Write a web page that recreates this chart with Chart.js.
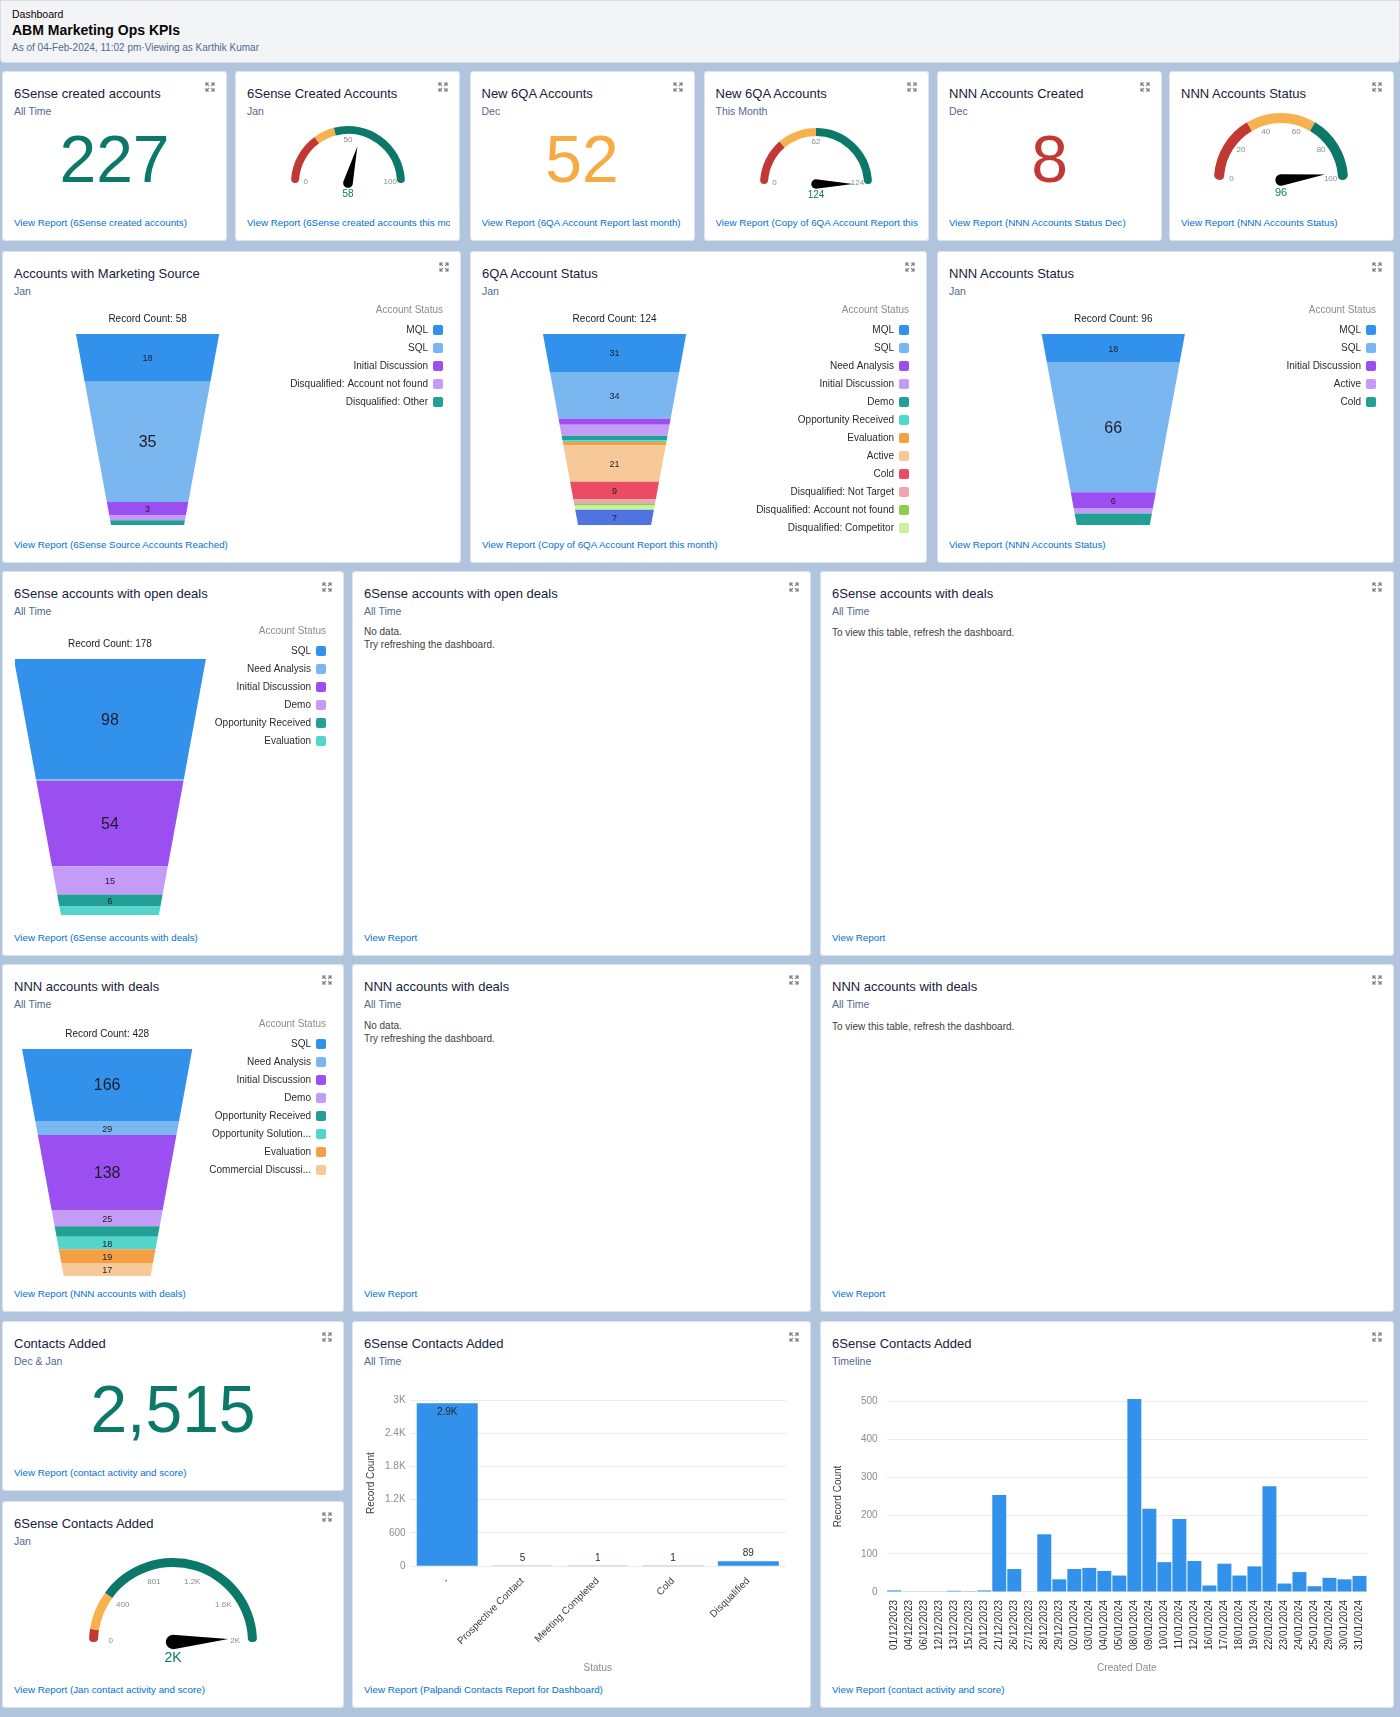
<!DOCTYPE html>
<html lang="en">
<head>
<meta charset="utf-8">
<title>ABM Marketing Ops KPIs</title>
<script src="https://cdn.jsdelivr.net/npm/chart.js@4.4.1/dist/chart.umd.min.js"></script>
<style>
  html, body { margin: 0; padding: 0; }
  body { width: 1400px; height: 1717px; position: relative; overflow: hidden; background: #b0c4de;
         font-family: "Liberation Sans", Arial, Helvetica, sans-serif; }
  .header { position: absolute; left: 0; top: 0; width: 1398px; height: 61px; background: #f3f4f6;
            border: 1px solid #d8dde6; border-radius: 0 0 4px 4px; }
  .header .crumb { position: absolute; left: 11px; top: 7px; font-size: 10.5px; color: #080707; }
  .header .name { position: absolute; left: 11px; top: 21px; font-size: 14px; font-weight: bold; color: #080707; }
  .header .asof { position: absolute; left: 11px; top: 41px; font-size: 10px; color: #54698d; }
  .card { position: absolute; background: #fff; border-radius: 4px; box-shadow: inset 0 0 0 1px #dde3ec; }
  .card .t { position: absolute; left: 12px; top: 15px; font-size: 13px; line-height: 15px; color: #16233a; white-space: nowrap; }
  .card .s { position: absolute; left: 12px; top: 34px; font-size: 10.5px; line-height: 12px; color: #54698d; }
  .card .x { position: absolute; right: 12px; top: 11px; }
  .card .link { position: absolute; left: 12px; right: 10px; bottom: 12px; font-size: 9.8px; line-height: 12px;
                color: #0070d2; white-space: nowrap; overflow: hidden; }
  .card canvas { position: absolute; }
  .big { position: absolute; left: 0; right: 0; top: 55px; text-align: center; font-size: 66px; line-height: 66px; }
  .msg { position: absolute; left: 12px; font-size: 10px; line-height: 12.5px; color: #3e3e3c; }
</style>
</head>
<body>
<div class="header">
  <div class="crumb">Dashboard</div>
  <div class="name">ABM Marketing Ops KPIs</div>
  <div class="asof">As of 04-Feb-2024, 11:02 pm·Viewing as Karthik Kumar</div>
</div>
<script>
const metricTotals = [227, 52, 8, 2515];   // 6Sense created, New 6QA Dec, NNN created Dec, Contacts Dec & Jan

// gauges: limites de las bandas (rojo / amarillo / verde), marcas y valor
const createdJanBands = [0, 30, 42, 100];
const createdJanTicks = [0, 50, 100];
const qaMonthBands = [0, 34, 62, 124];
const qaMonthTicks = [0, 62, 124];
const nnnStatusBands = [0, 33, 67, 100];
const nnnStatusTicks = [0, 20, 40, 60, 80, 100];
const contactsJanBands = [0, 100, 400, 2000];
const contactsJanTicks = [0, 400, 801, 1200, 1600, 2000];
const gaugeValues = [58, 124, 96, 1965];

// funnels
const marketingStatus = ['MQL', 'SQL', 'Initial Discussion', 'Disqualified: Account not found', 'Disqualified: Other'];
const marketingCounts = [18, 35, 3, 1, 1];
const qaStatus = ['MQL', 'SQL', 'Need Analysis', 'Initial Discussion', 'Demo', 'Opportunity Received', 'Evaluation',
  'Active', 'Cold', 'Disqualified: Not Target', 'Disqualified: Account not found', 'Disqualified: Competitor', 'Disqualified: Other'];
const qaCounts = [31, 34, 4, 7, 3, 1, 2, 21, 9, 2, 1, 2, 7];
const nnnStatus = ['MQL', 'SQL', 'Initial Discussion', 'Active', 'Cold'];
const nnnCounts = [18, 66, 6, 2, 4];
const openDealStatus = ['SQL', 'Need Analysis', 'Initial Discussion', 'Demo', 'Opportunity Received', 'Evaluation'];
const openDealCounts = [98, 1, 54, 15, 6, 4];
const nnnDealStatus = ['SQL', 'Need Analysis', 'Initial Discussion', 'Demo', 'Opportunity Received',
  'Opportunity Solution...', 'Evaluation', 'Commercial Discussi...'];
const nnnDealCounts = [166, 29, 138, 25, 16, 18, 19, 17];

// 6Sense Contacts Added - All Time
const contactStatus = ['-', 'Prospective Contact', 'Meeting Completed', 'Cold', 'Disqualified'];
const contactCounts = [2940, 5, 1, 1, 89];
const contactTicks = [0, 600, 1200, 1800, 2400, 3000];

// 6Sense Contacts Added - Timeline
const timelineDates = ['01/12/2023', '04/12/2023', '06/12/2023', '12/12/2023', '13/12/2023', '15/12/2023', '20/12/2023',
  '21/12/2023', '26/12/2023', '27/12/2023', '28/12/2023', '29/12/2023', '02/01/2024', '03/01/2024', '04/01/2024',
  '05/01/2024', '08/01/2024', '09/01/2024', '10/01/2024', '11/01/2024', '12/01/2024', '16/01/2024', '17/01/2024',
  '18/01/2024', '19/01/2024', '22/01/2024', '23/01/2024', '24/01/2024', '25/01/2024', '29/01/2024', '30/01/2024', '31/01/2024'];
const timelineCounts = [4, 1, 1, 1, 3, 2, 4, 254, 60, 0, 151, 33, 60, 63, 55, 43, 505, 218, 78, 191, 81, 17, 74, 43, 67, 277,
  22, 52, 15, 37, 33, 42];
const timelineTicks = [0, 100, 200, 300, 400, 500];

// ================= estilos =================
const FONT = '"Liberation Sans", Arial, Helvetica, sans-serif';
Chart.defaults.font.family = FONT;
Chart.defaults.font.size = 10;
Chart.defaults.color = '#3e3e3c';

const BAR_BLUE = '#3292eb';
const TEAL = '#0b7869';
const funnelPalette = ['#3292eb', '#7ab6f0', '#9b4ff0', '#c49bf6', '#23a096', '#52d6cc', '#f59f45',
  '#f8c998', '#ea4c64', '#f4a3b2', '#8bcc4f', '#c9f09a', '#4f73e0'];

function formatK(v) {
  return v >= 1000 ? (Math.round(v / 100) / 10) + 'K' : String(v);
}

// ================= tarjetas =================
const ICON = '<svg class="x" width="10" height="10" viewBox="0 0 10 10"><g stroke="#7d7d7d" stroke-width="1.2" fill="none" stroke-linecap="round">' +
  '<path d="M1 3.5V1h2.5M1 1l2.6 2.6"/><path d="M9 3.5V1H6.5M9 1L6.4 3.6"/>' +
  '<path d="M1 6.5V9h2.5M1 9l2.6-2.6"/><path d="M9 6.5V9H6.5M9 9L6.4 6.4"/></g></svg>';

function makeCard(x, y, w, h, title, sub, link) {
  const el = document.createElement('div');
  el.className = 'card';
  el.style.left = x + 'px';
  el.style.top = y + 'px';
  el.style.width = w + 'px';
  el.style.height = h + 'px';
  el.innerHTML = '<div class="t">' + title + '</div>' + (sub ? '<div class="s">' + sub + '</div>' : '') +
    ICON + '<div class="link">' + link + '</div>';
  document.body.appendChild(el);
  return el;
}

function addCanvas(card, x, y, w, h) {
  const c = document.createElement('canvas');
  c.width = Math.round(w);
  c.height = Math.round(h);
  c.style.left = Math.round(x) + 'px';
  c.style.top = Math.round(y) + 'px';
  card.appendChild(c);
  return c;
}

function bigNumber(card, value, color) {
  const d = document.createElement('div');
  d.className = 'big';
  d.style.color = color;
  d.textContent = value.toLocaleString('en-US');
  card.appendChild(d);
}

function message(card, top, lines) {
  const d = document.createElement('div');
  d.className = 'msg';
  d.style.top = top + 'px';
  d.innerHTML = lines.join('<br>');
  card.appendChild(d);
}

// ================= gauge =================
function gaugeNeedle(bands, ticks, value) {
  return {
    id: 'gaugeNeedle',
    afterDatasetsDraw(chart) {
      const arcs = chart.getDatasetMeta(0).data;
      const first = arcs[0], last = arcs[arcs.length - 1];
      const cx = first.x, cy = first.y, R = first.outerRadius;
      const min = bands[0], max = bands[bands.length - 1];
      const ang = v => first.startAngle + (v - min) / (max - min) * (last.endAngle - first.startAngle);
      const ctx = chart.ctx;
      ctx.save();
      ctx.textAlign = 'center';
      ctx.textBaseline = 'middle';
      ctx.fillStyle = '#8a8a8a';
      ctx.font = '8px ' + FONT;
      ticks.forEach(t => {
        const a = ang(t);
        ctx.fillText(formatK(t), cx + Math.cos(a) * R * 0.74, cy + Math.sin(a) * R * 0.74 - 1);
      });
      // aguja
      const a = ang(value), L = R * 0.66, rb = R * 0.085;
      ctx.beginPath();
      ctx.moveTo(cx + Math.cos(a) * L, cy + Math.sin(a) * L);
      ctx.arc(cx, cy, rb, a + Math.PI / 2, a + Math.PI * 1.5);
      ctx.closePath();
      ctx.fillStyle = '#000';
      ctx.fill();
      // valor
      ctx.fillStyle = TEAL;
      ctx.font = Math.round(R * 0.17) + 'px ' + FONT;
      ctx.fillText(formatK(value), cx, cy + R * 0.17 + 2);
      ctx.restore();
    }
  };
}

function gauge(card, cx, cy, R, th, bands, ticks, value) {
  const px = 24, pt = 4, pb = 24;
  const canvas = addCanvas(card, cx - R - px, cy - R - pt, 2 * R + 2 * px, R + pt + pb);
  const cap = Math.floor(th / 2);
  new Chart(canvas, {
    type: 'doughnut',
    data: {
      labels: ['Low', 'Medium', 'High'],
      datasets: [{
        data: bands.slice(1).map((b, i) => b - bands[i]),
        backgroundColor: ['#c23934', '#f7b24f', TEAL],
        borderWidth: 0,
        borderRadius: c => c.dataIndex === 0 ? { outerStart: cap, innerStart: cap, outerEnd: 0, innerEnd: 0 }
          : (c.dataIndex === 2 ? { outerStart: 0, innerStart: 0, outerEnd: cap, innerEnd: cap } : 0)
      }]
    },
    options: {
      responsive: false, animation: false,
      rotation: -90, circumference: 180,
      cutout: ((R - th) / R * 100) + '%',
      layout: { padding: { left: px, right: px, top: pt, bottom: pb } },
      plugins: { legend: { display: false }, tooltip: { enabled: false } }
    },
    plugins: [gaugeNeedle(bands, ticks, value)]
  });
}

// ================= funnel =================
// escala vertical: el area de cada tramo del embudo es proporcional al valor
class FunnelScale extends Chart.LinearScale {
  getPixelForDecimal(decimal) {
    const k = this.options.taper;
    const f = Math.min(Math.max(decimal, 0), 1);
    const t = (1 - Math.sqrt(1 - k * (2 - k) * f)) / k;
    return this.top + t * (this.bottom - this.options.inset - this.top);
  }
}
FunnelScale.id = 'funnel';
FunnelScale.defaults = { taper: 0.49, inset: 0 };
Chart.register(FunnelScale);

const funnelShapes = {
  id: 'funnelShapes',
  beforeDatasetDraw() { return false; },
  afterDatasetsDraw(chart) {
    const ctx = chart.ctx, ys = chart.scales.y;
    const top = ys.top, bottom = ys.bottom - ys.options.inset;
    const k = ys.options.taper, topW = (bottom - top) * 0.75;
    const widthAt = py => topW * (1 - k * (py - top) / (bottom - top));
    ctx.save();
    chart.data.datasets.forEach((ds, i) => {
      const el = chart.getDatasetMeta(i).data[0];
      if (!el) return;
      const y0 = Math.min(el.y, el.base), y1 = Math.max(el.y, el.base);
      if (y1 - y0 < 0.2) return;
      const w0 = widthAt(y0), w1 = widthAt(y1);
      ctx.beginPath();
      ctx.moveTo(el.x - w0 / 2, y0);
      ctx.lineTo(el.x + w0 / 2, y0);
      ctx.lineTo(el.x + w1 / 2, y1);
      ctx.lineTo(el.x - w1 / 2, y1);
      ctx.closePath();
      ctx.fillStyle = ds.backgroundColor;
      ctx.fill();
      const h = y1 - y0;
      if (h >= 12) {
        ctx.fillStyle = '#1b1d2b';
        ctx.textAlign = 'center';
        ctx.textBaseline = 'middle';
        ctx.font = (h > 60 ? 16 : 9) + 'px ' + FONT;
        ctx.fillText(ds.data[0], el.x, (y0 + y1) / 2 + 1);
      }
    });
    ctx.restore();
  }
};

// titulo de la leyenda, alineado con los cuadritos
const legendHeading = {
  id: 'legendHeading',
  afterDraw(chart) {
    const lg = chart.legend, ctx = chart.ctx;
    ctx.save();
    ctx.font = '10px ' + FONT;
    ctx.fillStyle = '#8c8c8c';
    ctx.textAlign = 'right';
    ctx.textBaseline = 'middle';
    ctx.fillText('Account Status', lg.right - lg.options.labels.padding, lg.top + 5);
    ctx.restore();
  }
};

function funnel(card, w, top, bottom, inset, padTop, labels, counts, maxLegend) {
  const total = counts.reduce((a, b) => a + b, 0);
  const canvas = addCanvas(card, 13, top, w - 23, bottom - top);
  new Chart(canvas, {
    type: 'bar',
    data: {
      labels: [''],
      datasets: labels.map((l, i) => ({ label: l, data: [counts[i]], backgroundColor: funnelPalette[i] }))
    },
    options: {
      responsive: false, animation: false,
      plugins: {
        tooltip: { enabled: false },
        legend: {
          position: 'right', align: 'start', rtl: true, textDirection: 'ltr',
          title: { display: true, text: ' ', font: { size: 10 }, padding: 0 },
          labels: {
            boxWidth: 10, boxHeight: 10, padding: 8, color: '#2b2b2b', font: { size: 10 },
            useBorderRadius: true, borderRadius: 2,
            filter: item => item.datasetIndex < maxLegend
          }
        }
      },
      scales: {
        x: {
          position: 'top', stacked: true,
          grid: { display: false, drawTicks: false }, border: { display: false }, ticks: { display: false },
          title: { display: true, text: 'Record Count: ' + total, color: '#1b1b1b', font: { size: 10 },
                   padding: { top: padTop, bottom: 9 } }
        },
        y: { type: 'funnel', stacked: true, display: false, min: 0, max: total, taper: 0.49, inset: inset }
      }
    },
    plugins: [funnelShapes, legendHeading]
  });
}

// ================= etiquetas de barras =================
const barValueLabels = {
  id: 'barValueLabels',
  afterDatasetsDraw(chart) {
    const ctx = chart.ctx, area = chart.chartArea;
    const data = chart.data.datasets[0].data;
    ctx.save();
    ctx.font = '10px ' + FONT;
    ctx.fillStyle = '#2b2b2b';
    ctx.textAlign = 'center';
    ctx.textBaseline = 'middle';
    chart.getDatasetMeta(0).data.forEach((el, i) => {
      const inside = el.y - 16 < area.top;
      ctx.fillText(formatK(data[i]), el.x, inside ? el.y + 9 : el.y - 8);
    });
    ctx.restore();
  }
};

// ================= fila 1 =================
const row1X = [2, 235, 469.5, 703.5, 937, 1169];
const c1 = makeCard(row1X[0], 71, 225, 170, '6Sense created accounts', 'All Time', 'View Report (6Sense created accounts)');
bigNumber(c1, metricTotals[0], TEAL);

const c2 = makeCard(row1X[1], 71, 225, 170, '6Sense Created Accounts', 'Jan', 'View Report (6Sense created accounts this month)');
gauge(c2, 112.5, 112, 57, 8, createdJanBands, createdJanTicks, gaugeValues[0]);

const c3 = makeCard(row1X[2], 71, 225, 170, 'New 6QA Accounts', 'Dec', 'View Report (6QA Account Report last month)');
bigNumber(c3, metricTotals[1], '#f6ab45');

const c4 = makeCard(row1X[3], 71, 225, 170, 'New 6QA Accounts', 'This Month', 'View Report (Copy of 6QA Account Report this month)');
gauge(c4, 112, 113, 56, 8, qaMonthBands, qaMonthTicks, gaugeValues[1]);

const c5 = makeCard(row1X[4], 71, 225, 170, 'NNN Accounts Created', 'Dec', 'View Report (NNN Accounts Status Dec)');
bigNumber(c5, metricTotals[2], '#c23934');

const c6 = makeCard(row1X[5], 71, 225, 170, 'NNN Accounts Status', '', 'View Report (NNN Accounts Status)');
gauge(c6, 112, 109, 67, 10, nnnStatusBands, nnnStatusTicks, gaugeValues[2]);

// ================= fila 2 =================
const f1 = makeCard(2, 251, 459, 312, 'Accounts with Marketing Source', 'Jan', 'View Report (6Sense Source Accounts Reached)');
funnel(f1, 459, 54, 294, 20, 8, marketingStatus, marketingCounts, 99);

const f2 = makeCard(470, 251, 457, 312, '6QA Account Status', 'Jan', 'View Report (Copy of 6QA Account Report this month)');
funnel(f2, 457, 54, 294, 20, 8, qaStatus, qaCounts, 12);

const f3 = makeCard(937, 251, 457, 312, 'NNN Accounts Status', 'Jan', 'View Report (NNN Accounts Status)');
funnel(f3, 457, 54, 294, 20, 8, nnnStatus, nnnCounts, 99);

// ================= fila 3 =================
const d1 = makeCard(2, 571, 342, 385, '6Sense accounts with open deals', 'All Time', 'View Report (6Sense accounts with deals)');
funnel(d1, 342, 55, 364, 20, 12, openDealStatus, openDealCounts, 99);

const d2 = makeCard(352, 571, 459, 385, '6Sense accounts with open deals', 'All Time', 'View Report');
message(d2, 55, ['No data.', 'Try refreshing the dashboard.']);

const d3 = makeCard(820, 571, 574, 385, '6Sense accounts with deals', 'All Time', 'View Report');
message(d3, 56, ['To view this table, refresh the dashboard.']);

// ================= fila 4 =================
const n1 = makeCard(2, 964, 342, 348, 'NNN accounts with deals', 'All Time', 'View Report (NNN accounts with deals)');
funnel(n1, 342, 55, 332, 20, 9, nnnDealStatus, nnnDealCounts, 99);

const n2 = makeCard(352, 964, 459, 348, 'NNN accounts with deals', 'All Time', 'View Report');
message(n2, 56, ['No data.', 'Try refreshing the dashboard.']);

const n3 = makeCard(820, 964, 574, 348, 'NNN accounts with deals', 'All Time', 'View Report');
message(n3, 57, ['To view this table, refresh the dashboard.']);

// ================= fila 5 =================
const k1 = makeCard(2, 1321, 342, 170, 'Contacts Added', 'Dec &amp; Jan', 'View Report (contact activity and score)');
bigNumber(k1, metricTotals[3], TEAL);

const k2 = makeCard(2, 1501, 342, 207, '6Sense Contacts Added', 'Jan', 'View Report (Jan contact activity and score)');
gauge(k2, 171, 141, 84, 9, contactsJanBands, contactsJanTicks, gaugeValues[3]);

const k3 = makeCard(352, 1321, 459, 387, '6Sense Contacts Added', 'All Time', 'View Report (Palpandi Contacts Report for Dashboard)');
const allTimeCanvas = addCanvas(k3, 9, 69, 439, 294);
new Chart(allTimeCanvas, {
  type: 'bar',
  data: { labels: contactStatus, datasets: [{ data: contactCounts, backgroundColor: BAR_BLUE, barPercentage: 0.81, categoryPercentage: 1 }] },
  options: {
    responsive: false, animation: false,
    layout: { padding: { top: 9, right: 14, left: 0, bottom: 6 } },
    plugins: { legend: { display: false }, tooltip: { enabled: false } },
    scales: {
      x: {
        grid: { display: false, drawTicks: false }, border: { display: false },
        ticks: { minRotation: 45, maxRotation: 45, padding: 9, color: '#3e3e3c', font: { size: 10 } },
        title: { display: true, text: 'Status', color: '#8c8c8c', font: { size: 10 }, padding: { top: 6, bottom: 4 } }
      },
      y: {
        min: 0, max: 3000,
        afterBuildTicks: s => { s.ticks = contactTicks.map(v => ({ value: v })); },
        grid: { color: '#ebebeb', drawTicks: false }, border: { display: false },
        ticks: { padding: 4, color: '#8c8c8c', font: { size: 10 }, callback: v => formatK(v) },
        title: { display: true, text: 'Record Count', color: '#3e3e3c', font: { size: 10 }, padding: { top: 4, bottom: 4 } }
      }
    }
  },
  plugins: [barValueLabels]
});

const k4 = makeCard(820, 1321, 574, 387, '6Sense Contacts Added', 'Timeline', 'View Report (contact activity and score)');
const timelineCanvas = addCanvas(k4, 8, 65, 552, 298);
new Chart(timelineCanvas, {
  type: 'bar',
  data: { labels: timelineDates, datasets: [{ data: timelineCounts, backgroundColor: BAR_BLUE, barPercentage: 0.93, categoryPercentage: 1, clip: false }] },
  options: {
    responsive: false, animation: false,
    layout: { padding: { top: 9, right: 13, left: 0, bottom: 6 } },
    plugins: { legend: { display: false }, tooltip: { enabled: false } },
    scales: {
      x: {
        grid: { display: false, drawTicks: false }, border: { display: false },
        ticks: { autoSkip: false, minRotation: 90, maxRotation: 90, padding: 8, color: '#2b2b2b', font: { size: 10 } },
        title: { display: true, text: 'Created Date', color: '#8c8c8c', font: { size: 10 }, padding: { top: 4, bottom: 4 } }
      },
      y: {
        min: 0, max: 500,
        afterBuildTicks: s => { s.ticks = timelineTicks.map(v => ({ value: v })); },
        grid: { color: '#ebebeb', drawTicks: false }, border: { display: false },
        ticks: { padding: 9, color: '#8c8c8c', font: { size: 10 } },
        title: { display: true, text: 'Record Count', color: '#3e3e3c', font: { size: 10 }, padding: { top: 4, bottom: 8 } }
      }
    }
  }
});
</script>
</body>
</html>
